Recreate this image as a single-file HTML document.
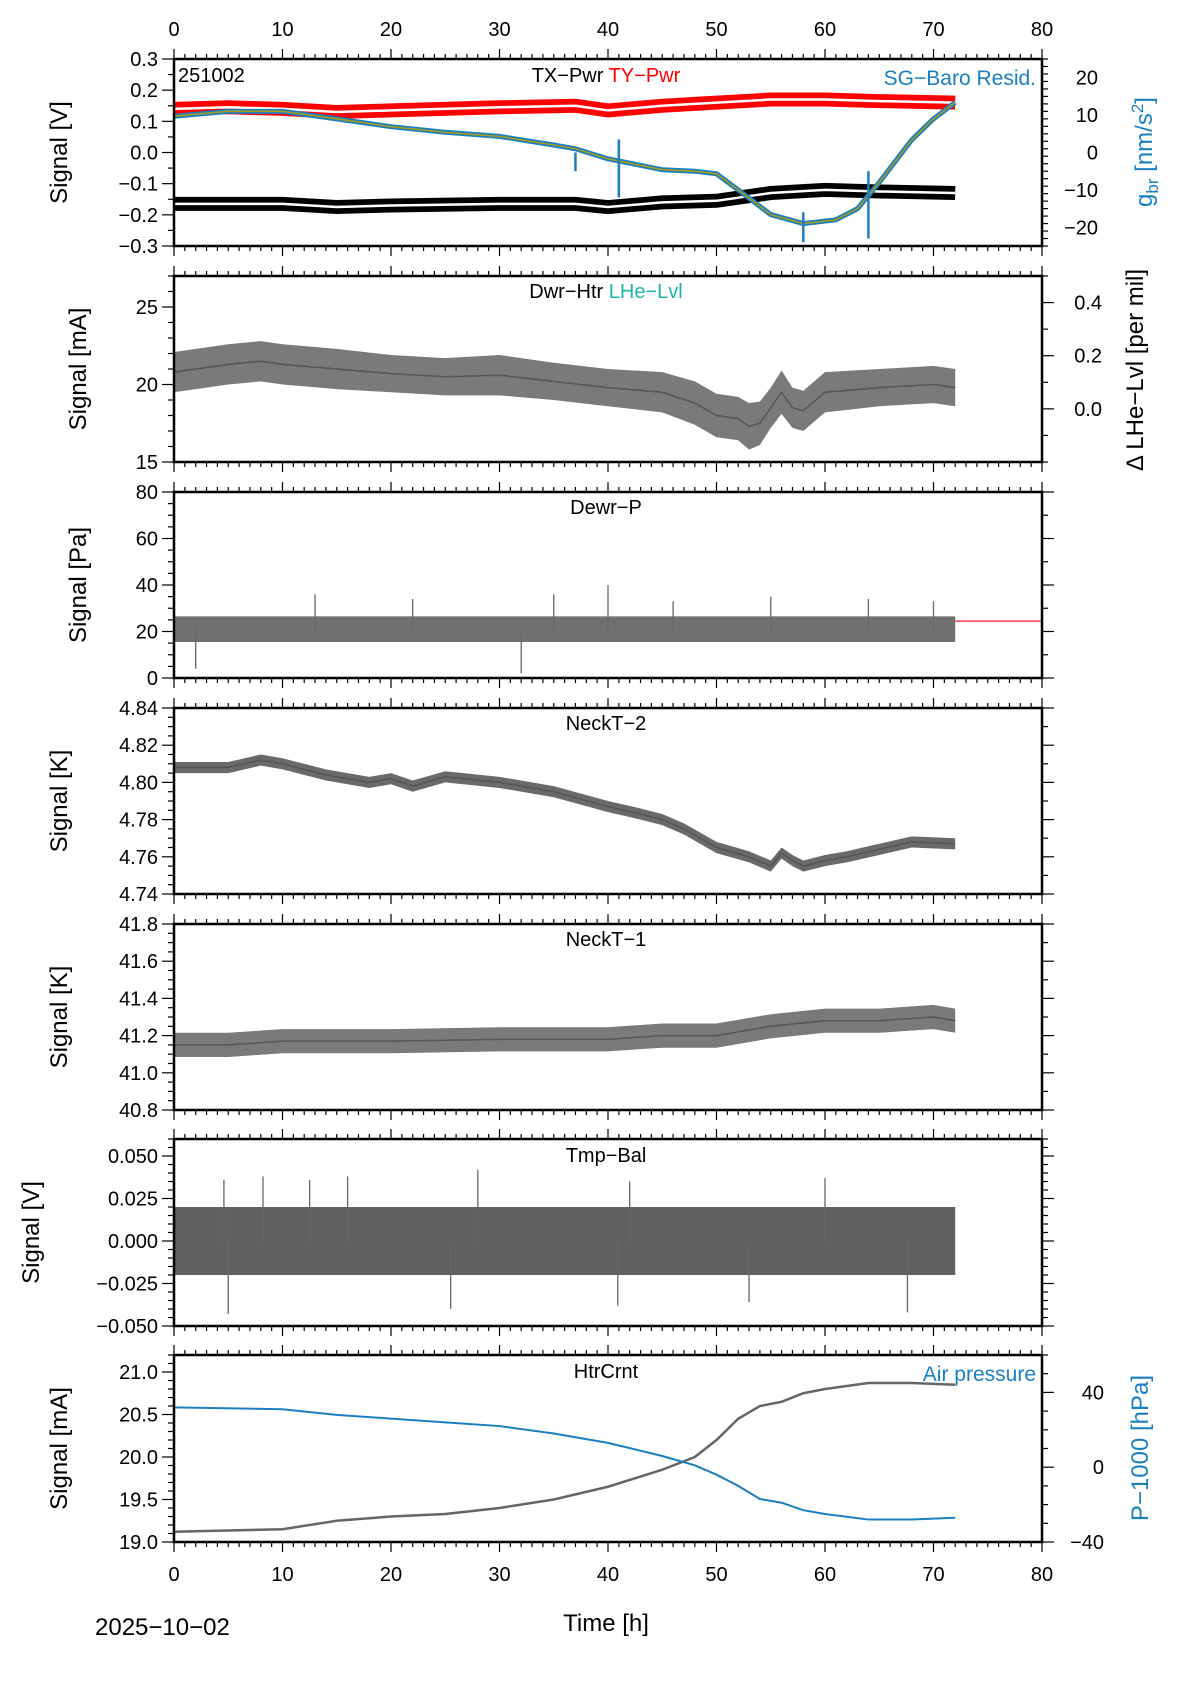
<!DOCTYPE html>
<html><head><meta charset="utf-8"><style>
html,body{margin:0;padding:0;background:#fff}
svg{display:block;font-family:"Liberation Sans",sans-serif}
</style></head><body>
<svg id="c" width="1190" height="1684" viewBox="0 0 1190 1684"></svg>
<script>
// ---- data (hours) ----
const tP1 = [0,5,10,15,20,25,30,35,37,40,45,48,50,52,55,58,61,63,65,68,70,72];
const gbr = [9.7,11,11,9,6.9,5.4,4.3,2,1,-1.7,-4.6,-5,-5.7,-10,-16.6,-19,-18,-15,-8,3.4,9,13.4];
const tPwr = [0,5,10,15,20,30,37,40,45,50,55,60,65,72];
const txPwr = [-0.165,-0.165,-0.165,-0.175,-0.17,-0.165,-0.165,-0.175,-0.16,-0.155,-0.13,-0.12,-0.125,-0.13];
const tyPwr = [0.14,0.145,0.14,0.13,0.135,0.145,0.15,0.135,0.15,0.16,0.17,0.17,0.165,0.16];
const gbrSpikeT = [37,41,58,64];
const gbrSpikeLo = [-5,-12,-24,-23];
const gbrSpikeHi = [0,3.5,-16,-5];

const tP2 = [0,5,8,10,15,20,25,30,35,40,45,48,50,52,53,54,55,56,57,58,60,65,70,72];
const dwrHtr = [20.8,21.3,21.5,21.3,21,20.7,20.5,20.6,20.2,19.8,19.5,18.8,18,17.8,17.3,17.5,18.5,19.5,18.5,18.3,19.5,19.8,20,19.8];
const dwrAmp = [1.3,1.3,1.3,1.3,1.3,1.2,1.2,1.3,1.2,1.2,1.3,1.4,1.4,1.4,1.5,1.4,1.3,1.4,1.3,1.3,1.3,1.2,1.2,1.2];

const tP3 = [0,10,20,30,40,50,60,72];
const dewrP = [21,21,21,21,21,21,21,21];
const dewrAmp = [5.5,5.5,5.5,5.5,5.5,5.5,5.5,5.5];
const dewrRef = 24.5;
const dewrSpikeT = [2,13,22,32,35,40,46,55,64,70];
const dewrSpikeV = [4,36,34,2,36,40,33,35,34,33];

const tP4 = [0,5,8,10,14,18,20,22,25,30,35,40,43,45,47,50,53,55,56,57,58,60,62,65,68,72];
const neck2 = [4.808,4.808,4.812,4.81,4.804,4.80,4.802,4.798,4.803,4.800,4.795,4.787,4.783,4.780,4.775,4.765,4.760,4.755,4.762,4.758,4.755,4.758,4.760,4.764,4.768,4.767];
const neck2Amp = 0.003;

const tP5 = [0,5,10,20,30,40,45,50,55,60,65,70,72];
const neck1 = [41.15,41.15,41.17,41.17,41.18,41.18,41.2,41.2,41.25,41.28,41.28,41.3,41.28];
const neck1Amp = 0.065;

const tP6 = [0,20,40,60,72];
const tmpBal = [0,0,0,0,0];
const tmpAmp = 0.02;
const tmpSpikeT = [4.6,5,8.2,12.5,16,25.5,28,40.9,42,53,60,67.6];
const tmpSpikeV = [0.036,-0.043,0.038,0.036,0.038,-0.04,0.042,-0.038,0.035,-0.036,0.037,-0.042];

const tP7 = [0,10,15,20,25,30,35,40,45,48,50,52,54,56,58,60,64,68,72];
const htrCrnt = [19.12,19.15,19.25,19.3,19.33,19.4,19.5,19.65,19.85,20.0,20.2,20.45,20.6,20.65,20.75,20.8,20.87,20.87,20.85];
const airP = [32,31,28,26,24,22,18,13,6,1,-4,-10,-17,-19,-23,-25,-28,-28,-27];

const xTicks = [0,10,20,30,40,50,60,70,80];

// ---- layout ----
const NS="http://www.w3.org/2000/svg", svg=document.getElementById('c');
const L=174, R=1042;
const xs=t=>L+t*(R-L)/80;
function el(tag,a,parent){const e=document.createElementNS(NS,tag);for(const k in a)e.setAttribute(k,a[k]);(parent||svg).appendChild(e);return e;}
function txt(s,a,parent){const e=el('text',a,parent);e.textContent=s;return e;}
const panels=[
 {top:59,bot:246,lo:-0.3,hi:0.3,ticks:[-0.3,-0.2,-0.1,0,0.1,0.2,0.3],fmt:v=>v.toFixed(1),minor:0.05,label:'Signal [V]',lx:67},
 {top:276,bot:462,lo:15,hi:27,ticks:[15,20,25],fmt:v=>v.toFixed(0),minor:1,label:'Signal [mA]',lx:86},
 {top:492,bot:678,lo:0,hi:80,ticks:[0,20,40,60,80],fmt:v=>v.toFixed(0),minor:5,label:'Signal [Pa]',lx:86},
 {top:708,bot:894,lo:4.74,hi:4.84,ticks:[4.74,4.76,4.78,4.80,4.82,4.84],fmt:v=>v.toFixed(2),minor:0.005,label:'Signal [K]',lx:67},
 {top:924,bot:1110,lo:40.8,hi:41.8,ticks:[40.8,41.0,41.2,41.4,41.6,41.8],fmt:v=>v.toFixed(1),minor:0.05,label:'Signal [K]',lx:67},
 {top:1139,bot:1326,lo:-0.05,hi:0.06,ticks:[-0.05,-0.025,0,0.025,0.05],fmt:v=>(v<0?'\u2212':'')+Math.abs(v).toFixed(3),minor:0.005,label:'Signal [V]',lx:39},
 {top:1355,bot:1542,lo:19,hi:21.2,ticks:[19,19.5,20,20.5,21],fmt:v=>v.toFixed(1),minor:0.1,label:'Signal [mA]',lx:67}
];
panels.forEach(p=>p.ys=v=>p.bot-(v-p.lo)/(p.hi-p.lo)*(p.bot-p.top));
const fmtm=s=>s.replace('-','\u2212');

function xAxisTicks(y,dir,g){
  for(let t=0;t<=80;t++){const len=t%10==0?10:5;el('line',{x1:xs(t),x2:xs(t),y1:y,y2:y+dir*len,stroke:'#000','stroke-width':1.2},g);}
}
function yAxisTicks(p,x,dir,lo,hi,maj,minor,ys,g){
  for(let v=lo;v<=hi+1e-9;v+=minor){const isM=maj.some(m=>Math.abs(m-v)<1e-9);el('line',{x1:x,x2:x+dir*(isM?12:6),y1:ys(v),y2:ys(v),stroke:'#000','stroke-width':1.2},g);}
}
function line(ts,vs,ys,attrs,g){return el('polyline',Object.assign({points:ts.map((t,i)=>xs(t)+','+ys(vs[i])).join(' '),fill:'none'},attrs),g);}
function band(ts,vs,amp,ys,fill,g){
  const a=ts.map((t,i)=>xs(t)+','+ys(vs[i]+(Array.isArray(amp)?amp[i]:amp)));
  const b=ts.map((t,i)=>xs(t)+','+ys(vs[i]-(Array.isArray(amp)?amp[i]:amp))).reverse();
  return el('polygon',{points:a.concat(b).join(' '),fill:fill},g);
}
function spikes(ts,vs,base,ys,g){
  ts.forEach((t,i)=>el('line',{x1:xs(t),x2:xs(t),y1:ys(base),y2:ys(vs[i]),stroke:'#666','stroke-width':1.3},g));
}

panels.forEach((p,i)=>{
  const g=el('g',{});
  
  
  xAxisTicks(p.top,-1,g); xAxisTicks(p.bot,1,g);
  yAxisTicks(p,L,-1,p.lo,p.hi,p.ticks,p.minor,p.ys,g);
  p.ticks.forEach(v=>{const t=txt(i==5?p.fmt(v):fmtm(p.fmt(v)),{x:L-16,y:p.ys(v)+7,'text-anchor':'end','font-size':20},g);});
  const yl=txt(p.label,{x:p.lx,y:(p.top+p.bot)/2,'text-anchor':'middle','font-size':24,transform:`rotate(-90 ${p.lx} ${(p.top+p.bot)/2})`},g);
  
  
  p.g=g;
});

// Panel 1
{const p=panels[0],g=p.g; const yr=v=>p.bot-(v+25)/50*(p.bot-p.top);
 yAxisTicks(p,R,1,-25,25,[-20,-10,0,10,20],2,yr,g);
 [-20,-10,0,10,20].forEach(v=>txt(fmtm(String(v)),{x:R+56,y:yr(v)+7,'text-anchor':'end','font-size':20},g));
 line(tPwr,tyPwr,p.ys,{stroke:'#f00','stroke-width':14},g);
 line(tPwr,tyPwr,p.ys,{stroke:'#fff','stroke-width':2.5},g);
 line(tPwr,txPwr,p.ys,{stroke:'#000','stroke-width':14},g);
 line(tPwr,txPwr,p.ys,{stroke:'#fff','stroke-width':2.5},g);
 line(tP1,gbr,yr,{stroke:'#1a7fc0','stroke-width':5},g);
 line(tP1,gbr,yr,{stroke:'#a39c1e','stroke-width':1.6},g);
 gbrSpikeT.forEach((t,i)=>el('line',{x1:xs(t),x2:xs(t),y1:yr(gbrSpikeLo[i]),y2:yr(gbrSpikeHi[i]),stroke:'#1a7fc0','stroke-width':2.5},g));
 txt('251002',{x:178,y:82,'font-size':20},g);
 const tt=txt('',{x:606,y:82,'text-anchor':'middle','font-size':20},g);
 const a=el('tspan',{},tt);a.textContent='TX\u2212Pwr ';const b=el('tspan',{fill:'#f00'},tt);b.textContent='TY\u2212Pwr';
 txt('SG\u2212Baro Resid.',{x:1036,y:85,'text-anchor':'end','font-size':21,fill:'#1a7fc0'},g);
 const rt=txt('',{x:1152,y:152,'text-anchor':'middle','font-size':24,fill:'#1a7fc0',transform:'rotate(-90 1152 152)'},g);
 const s1=el('tspan',{},rt);s1.textContent='g';const s2=el('tspan',{dy:6,'font-size':17},rt);s2.textContent='br';const s3=el('tspan',{dy:-6},rt);s3.textContent=' [nm/s';const s4=el('tspan',{dy:-9,'font-size':17},rt);s4.textContent='2';const s5=el('tspan',{dy:9},rt);s5.textContent=']';
}
// Panel 2
{const p=panels[1],g=p.g; const yr=v=>p.bot-(v+0.2)/0.7*(p.bot-p.top);
 yAxisTicks(p,R,1,-0.2,0.5,[0,0.2,0.4],0.1,yr,g);
 [0,0.2,0.4].forEach(v=>txt(v.toFixed(1),{x:R+60,y:yr(v)+7,'text-anchor':'end','font-size':20},g));
 band(tP2,dwrHtr,dwrAmp,p.ys,'#7a7a7a',g);
 line(tP2,dwrHtr,p.ys,{stroke:'#555','stroke-width':1.5},g);
 const tt=txt('',{x:606,y:298,'text-anchor':'middle','font-size':20},g);
 const a=el('tspan',{},tt);a.textContent='Dwr\u2212Htr  ';const b=el('tspan',{fill:'#1ab5a8'},tt);b.textContent='LHe\u2212Lvl';
 txt('\u0394 LHe\u2212Lvl [per mil]',{x:1143,y:370,'text-anchor':'middle','font-size':24,transform:'rotate(-90 1143 370)'},g);
}
// Panel 3
{const p=panels[2],g=p.g;
 yAxisTicks(p,R,1,0,80,[0,20,40,60,80],10,p.ys,g);
 band(tP3,dewrP,dewrAmp,p.ys,'#707070',g);
 spikes(dewrSpikeT,dewrSpikeV,21,p.ys,g);
 el('line',{x1:xs(72),x2:R,y1:p.ys(dewrRef),y2:p.ys(dewrRef),stroke:'#f00','stroke-width':1.2},g);
 txt('Dewr\u2212P',{x:606,y:514,'text-anchor':'middle','font-size':20},g);
}
// Panel 4
{const p=panels[3],g=p.g;
 yAxisTicks(p,R,1,4.74,4.84,[4.74,4.76,4.78,4.80,4.82,4.84],0.01,p.ys,g);
 band(tP4,neck2,neck2Amp,p.ys,'#6a6a6a',g);
 line(tP4,neck2,p.ys,{stroke:'#555','stroke-width':1.5},g);
 txt('NeckT\u22122',{x:606,y:730,'text-anchor':'middle','font-size':20},g);
}
// Panel 5
{const p=panels[4],g=p.g;
 yAxisTicks(p,R,1,40.8,41.8,[40.8,41,41.2,41.4,41.6,41.8],0.1,p.ys,g);
 band(tP5,neck1,neck1Amp,p.ys,'#7a7a7a',g);
 line(tP5,neck1,p.ys,{stroke:'#555','stroke-width':1.5},g);
 txt('NeckT\u22121',{x:606,y:946,'text-anchor':'middle','font-size':20},g);
}
// Panel 6
{const p=panels[5],g=p.g;
 yAxisTicks(p,R,1,-0.05,0.06,[-0.05,-0.025,0,0.025,0.05],0.005,p.ys,g);
 band(tP6,tmpBal,tmpAmp,p.ys,'#606060',g);
 spikes(tmpSpikeT,tmpSpikeV,0,p.ys,g);
 txt('Tmp\u2212Bal',{x:606,y:1162,'text-anchor':'middle','font-size':20},g);
}
// Panel 7
{const p=panels[6],g=p.g; const yr=v=>p.bot-(v+40)/100*(p.bot-p.top);
 yAxisTicks(p,R,1,-40,60,[-40,0,40],10,yr,g);
 [-40,0,40].forEach(v=>txt(fmtm(String(v)),{x:R+62,y:yr(v)+7,'text-anchor':'end','font-size':20},g));
 line(tP7,htrCrnt,p.ys,{stroke:'#666','stroke-width':2.5},g);
 line(tP7,airP,yr,{stroke:'#1a7fc0','stroke-width':2},g);
 txt('HtrCrnt',{x:606,y:1378,'text-anchor':'middle','font-size':20},g);
 txt('Air pressure',{x:1036,y:1381,'text-anchor':'end','font-size':21,fill:'#1a7fc0'},g);
 txt('P\u22121000 [hPa]',{x:1148,y:1448,'text-anchor':'middle','font-size':24,fill:'#1a7fc0',transform:'rotate(-90 1148 1448)'},g);
}
// frames
panels.forEach(p=>{const r=el('rect',{x:L,y:p.top,width:R-L,height:p.bot-p.top,fill:'none',stroke:'#000','stroke-width':2.5});
 });
// x tick labels
xTicks.forEach(t=>{
 const a=txt(String(t),{x:xs(t),y:36,'text-anchor':'middle','font-size':20});
 
 const b=txt(String(t),{x:xs(t),y:1581,'text-anchor':'middle','font-size':20});
 
});
const xt=txt('Time [h]',{x:606,y:1631,'text-anchor':'middle','font-size':24});

const dt=txt('2025\u221210\u221202',{x:95,y:1635,'font-size':24});

</script>
</body></html>
